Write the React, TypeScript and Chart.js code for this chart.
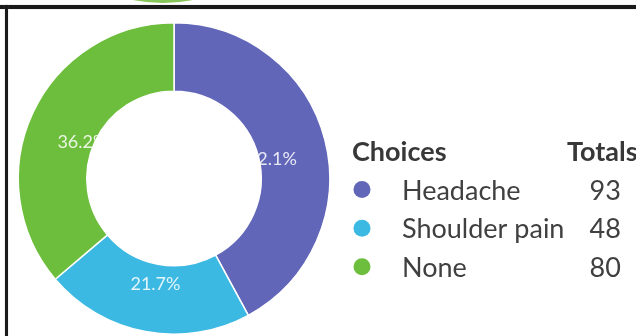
import React, { useEffect, useRef } from "react";
import { Chart, registerables } from "chart.js";

Chart.register(...registerables);

const choices = ["Headache", "Shoulder pain", "None"];
const totals = [93, 48, 80];
const sliceColors = ["#6166b8", "#3cb9e3", "#6dbe3c"];
const legendHeaders = ["Choices", "Totals"];

const FONT = "Lato, 'Noto Sans', sans-serif";

const sliceLabelPlugin = {
  id: "sliceLabels",
  afterDatasetsDraw(chart: any) {
    const ctx = chart.ctx as CanvasRenderingContext2D;
    const meta = chart.getDatasetMeta(0);
    const data = chart.data.datasets[0].data as number[];
    const sum = data.reduce((a, b) => a + b, 0);
    ctx.save();
    ctx.font = `18px ${FONT}`;
    ctx.fillStyle = "rgba(255,255,255,0.85)";
    ctx.textAlign = "center";
    ctx.textBaseline = "top";
    meta.data.forEach((arc: any, i: number) => {
      const p = arc.getProps(["x", "y", "startAngle", "endAngle", "innerRadius", "outerRadius"], true);
      const mid = (p.startAngle + p.endAngle) / 2;
      const r = p.innerRadius + (p.outerRadius - p.innerRadius) * 0.2;
      const pct = ((data[i] / sum) * 100).toFixed(1) + "%";
      ctx.fillText(pct, p.x + Math.cos(mid) * r, p.y + Math.sin(mid) * r - 3);
    });
    ctx.restore();
  },
};

const tableLegendPlugin = {
  id: "tableLegend",
  afterDraw(chart: any) {
    const ctx = chart.ctx as CanvasRenderingContext2D;
    const xHead = 352;
    const xDot = 362;
    const xText = 402;
    const xTot = 567;
    const yHead = 161;
    const rowH = 38.6;
    ctx.save();
    ctx.textBaseline = "alphabetic";
    ctx.fillStyle = "#383838";
    ctx.font = `bold 27px ${FONT}`;
    ctx.textAlign = "left";
    ctx.fillText(legendHeaders[0], xHead, yHead);
    ctx.fillText(legendHeaders[1], xTot, yHead);
    const totW = ctx.measureText(legendHeaders[1]).width;
    ctx.font = `27px ${FONT}`;
    choices.forEach((c, i) => {
      const y = yHead + rowH * (i + 1);
      ctx.fillStyle = sliceColors[i];
      ctx.beginPath();
      ctx.arc(xDot, y - 10, 8.5, 0, Math.PI * 2);
      ctx.fill();
      ctx.fillStyle = "#404040";
      ctx.textAlign = "left";
      ctx.fillText(c, xText, y);
      ctx.textAlign = "center";
      ctx.fillText(String(totals[i]), xTot + totW / 2 + 3, y);
    });
    ctx.restore();
  },
};

export default function App() {
  const canvasRef = useRef<HTMLCanvasElement | null>(null);

  useEffect(() => {
    document.body.style.margin = "0";
    const canvas = canvasRef.current;
    if (!canvas) return;
    const chart = new Chart(canvas, {
      type: "doughnut",
      data: {
        labels: choices,
        datasets: [
          {
            data: totals,
            backgroundColor: sliceColors,
            borderColor: "#ffffff",
            borderWidth: 1.5,
          },
        ],
      },
      options: {
        responsive: false,
        animation: false,
        cutout: "56%",
        layout: { padding: { left: 17, top: 22, right: 305, bottom: 1 } },
        plugins: {
          legend: { display: false },
          tooltip: { enabled: false },
        },
      },
      plugins: [sliceLabelPlugin, tableLegendPlugin],
    });
    return () => chart.destroy();
  }, []);

  return (
    <div
      style={{
        position: "fixed",
        left: 0,
        top: 0,
        width: 636,
        height: 336,
        background: "#ffffff",
        overflow: "hidden",
      }}
    >
      <div
        style={{
          position: "absolute",
          left: 8,
          top: -307,
          width: 310,
          height: 310,
          borderRadius: "50%",
          background: "#86c55a",
        }}
      />
      <div
        style={{
          position: "absolute",
          left: 0,
          top: 5,
          width: 636,
          height: 4,
          background: "#1a1a1a",
          boxShadow: "0 0 1px #888",
        }}
      />
      <div
        style={{
          position: "absolute",
          left: 5,
          top: 5,
          width: 3,
          height: 331,
          background: "#1a1a1a",
          boxShadow: "0 0 1px #888",
        }}
      />
      <canvas
        ref={canvasRef}
        width={636}
        height={336}
        style={{ position: "absolute", left: 0, top: 0, width: 636, height: 336 }}
      />
    </div>
  );
}
